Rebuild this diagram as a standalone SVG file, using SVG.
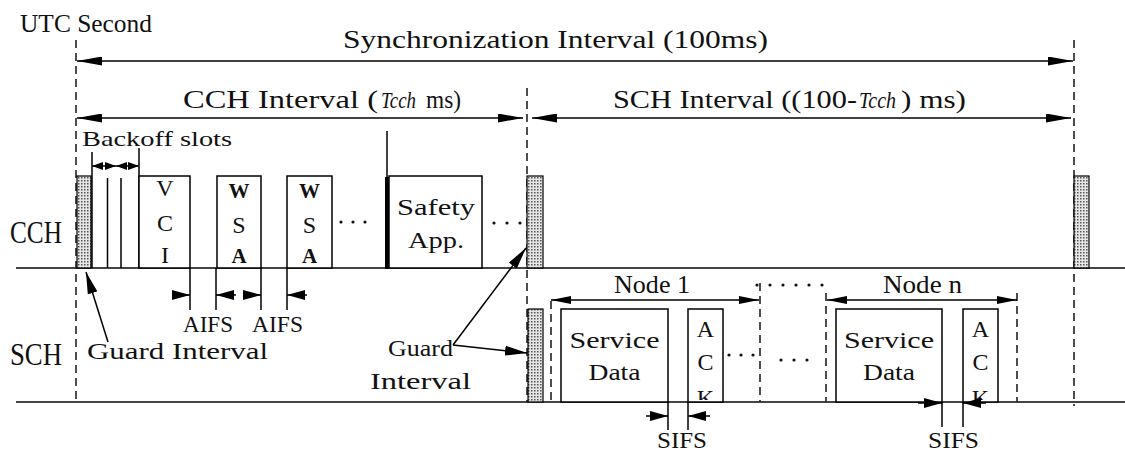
<svg xmlns="http://www.w3.org/2000/svg" width="1125" height="454" viewBox="0 0 1125 454">
<defs>
<style>
 text{font-family:"Liberation Serif","DejaVu Serif",serif;fill:#111}
 .t{font-size:26px}
 .m{font-size:24px}
 .sm{font-size:21px}
 .lab{font-family:"Liberation Serif",serif;font-size:32px}
 .it{font-family:"Liberation Serif",serif;font-style:italic;font-size:23px}
 .ln{stroke:#000;stroke-width:1.5;fill:none}
 .ch{stroke:#444;stroke-width:2;fill:none}
 .da{stroke:#222;stroke-width:1.6;stroke-dasharray:8 5;fill:none}
 .bx{stroke:#000;stroke-width:1.5;fill:#fff}
 .gd{stroke:#000;stroke-width:1.2;fill:url(#dots)}
 .dot{fill:#111}
</style>
<pattern id="dots" width="3" height="3" patternUnits="userSpaceOnUse"><rect width="3" height="3" fill="#e6e6e6"/><rect width="1.5" height="1.5" fill="#555"/></pattern>
<marker id="big" viewBox="0 0 25 9" refX="25" refY="4.5" markerWidth="25" markerHeight="9" markerUnits="userSpaceOnUse" orient="auto-start-reverse"><path d="M0,0L25,4.5L0,9z"/></marker>
<marker id="mid" viewBox="0 0 20 8" refX="20" refY="4" markerWidth="20" markerHeight="8" markerUnits="userSpaceOnUse" orient="auto-start-reverse"><path d="M0,0L20,4L0,8z"/></marker>
<marker id="sml" viewBox="0 0 11 8" refX="11" refY="4" markerWidth="11" markerHeight="8" markerUnits="userSpaceOnUse" orient="auto-start-reverse"><path d="M0,0L11,4L0,8z"/></marker>
<marker id="gi" viewBox="0 0 22 10" refX="22" refY="5" markerWidth="22" markerHeight="10" markerUnits="userSpaceOnUse" orient="auto"><path d="M0,0L22,5L0,10z"/></marker>
<marker id="tk" viewBox="0 0 18 10" refX="18" refY="5" markerWidth="18" markerHeight="10" markerUnits="userSpaceOnUse" orient="auto"><path d="M0,0L18,5L0,10z"/></marker>
<clipPath id="ack1"><rect x="688" y="309" width="35" height="91"/></clipPath>
<clipPath id="ackn"><rect x="963" y="309" width="35" height="91"/></clipPath>
</defs>
<rect width="1125" height="454" fill="#fff"/>

<g id="channels">
 <line class="ch" x1="16" y1="268" x2="1125" y2="268"/>
 <line class="ch" x1="16" y1="402" x2="1125" y2="402"/>
 <text class="lab" x="10" y="243" textLength="52" lengthAdjust="spacingAndGlyphs">CCH</text>
 <text class="lab" x="10" y="365" textLength="52" lengthAdjust="spacingAndGlyphs">SCH</text>
</g>

<g id="timelines">
 <line class="da" x1="76" y1="40" x2="76" y2="404"/>
 <line class="da" x1="527" y1="88" x2="527" y2="402"/>
 <line class="da" x1="1074" y1="40" x2="1074" y2="406"/>
 <line class="da" x1="551" y1="301" x2="551" y2="402"/>
 <line class="da" x1="760" y1="283" x2="760" y2="402"/>
 <line class="da" x1="826" y1="293" x2="826" y2="402"/>
 <line class="da" x1="1017" y1="293" x2="1017" y2="402"/>
 <text class="t" x="20" y="32" textLength="132" lengthAdjust="spacingAndGlyphs">UTC Second</text>
</g>

<g id="sync-interval">
 <text class="t" x="343" y="48" textLength="425" lengthAdjust="spacingAndGlyphs">Synchronization Interval (100ms)</text>
</g>
<g id="cch-interval">
 <text class="t" x="183" y="108" textLength="195" lengthAdjust="spacingAndGlyphs">CCH Interval (</text>
 <text class="it" x="381" y="108" textLength="35" lengthAdjust="spacingAndGlyphs">Tcch</text>
 <text class="t" x="426" y="108" textLength="35" lengthAdjust="spacingAndGlyphs">ms)</text>
</g>
<g id="sch-interval">
 <text class="t" x="613" y="108" textLength="244" lengthAdjust="spacingAndGlyphs">SCH Interval ((100-</text>
 <text class="it" x="859" y="108" textLength="37" lengthAdjust="spacingAndGlyphs">Tcch</text>
 <text class="t" x="901" y="108" textLength="65" lengthAdjust="spacingAndGlyphs">) ms)</text>
</g>

<g id="guard-cch-1"><rect class="gd" x="77" y="176" width="14" height="92"/></g>
<g id="backoff">
 <text class="sm" x="82" y="146" textLength="150" lengthAdjust="spacingAndGlyphs">Backoff slots</text>
 <line class="ln" x1="92" y1="152" x2="92" y2="268"/>
 <line class="ln" x1="107.5" y1="178" x2="107.5" y2="268"/>
 <line class="ln" x1="121" y1="178" x2="121" y2="268"/>
 <line class="ln" x1="139" y1="148" x2="139" y2="268"/>
</g>
<g id="vci">
 <rect class="bx" x="139" y="176" width="51" height="92"/>
 <text class="m" x="165" y="196" text-anchor="middle">V</text>
 <text class="m" x="165" y="231" text-anchor="middle">C</text>
 <text class="m" x="165" y="263" text-anchor="middle">I</text>
</g>
<g id="wsa1">
 <rect class="bx" x="217" y="176" width="44" height="92"/>
 <text class="sm" x="239" y="198" text-anchor="middle" font-weight="bold">W</text>
 <text class="m" x="239" y="233" text-anchor="middle">S</text>
 <text class="sm" x="239" y="263" text-anchor="middle" font-weight="bold">A</text>
</g>
<g id="wsa2">
 <rect class="bx" x="287" y="176" width="45" height="92"/>
 <text class="sm" x="309.5" y="198" text-anchor="middle" font-weight="bold">W</text>
 <text class="m" x="309.5" y="233" text-anchor="middle">S</text>
 <text class="sm" x="309.5" y="263" text-anchor="middle" font-weight="bold">A</text>
</g>
<g id="dots-cch-1">
 <circle class="dot" cx="341" cy="222" r="1.6"/><circle class="dot" cx="353" cy="222" r="1.6"/><circle class="dot" cx="365" cy="222" r="1.6"/>
</g>
<g id="safety-app">
 <line class="ln" x1="387" y1="131" x2="387" y2="178"/>
 <line stroke="#000" stroke-width="4" x1="387" y1="177" x2="387" y2="269"/>
 <rect class="bx" x="389" y="176" width="93" height="92"/>
 <text class="m" x="436" y="215" text-anchor="middle" textLength="78" lengthAdjust="spacingAndGlyphs">Safety</text>
 <text class="m" x="436" y="248" text-anchor="middle" textLength="56" lengthAdjust="spacingAndGlyphs">App.</text>
</g>
<g id="dots-cch-2">
 <circle class="dot" cx="494" cy="223" r="1.6"/><circle class="dot" cx="507" cy="223" r="1.6"/><circle class="dot" cx="520" cy="223" r="1.6"/>
</g>
<g id="guard-cch-2"><rect class="gd" x="527" y="176" width="16" height="92"/></g>
<g id="guard-cch-3"><rect class="gd" x="1074" y="176" width="15" height="92"/></g>
<g id="guard-sch-1"><rect class="gd" x="528" y="309" width="15" height="93"/></g>

<g id="aifs">
 <line class="ln" x1="190" y1="268" x2="190" y2="310"/>
 <line class="ln" x1="216" y1="268" x2="216" y2="310"/>
 <line class="ln" x1="261" y1="268" x2="261" y2="310"/>
 <line class="ln" x1="287" y1="268" x2="287" y2="310"/>
 <text class="m" x="183" y="332" textLength="50" lengthAdjust="spacingAndGlyphs">AIFS</text>
 <text class="m" x="252" y="332" textLength="51" lengthAdjust="spacingAndGlyphs">AIFS</text>
</g>
<g id="guard-label-1">
 <text class="m" x="87" y="359" textLength="181" lengthAdjust="spacingAndGlyphs">Guard Interval</text>
</g>
<g id="guard-label-2">
 <text class="m" x="388" y="356" textLength="65" lengthAdjust="spacingAndGlyphs">Guard</text>
 <text class="m" x="370" y="389" textLength="101" lengthAdjust="spacingAndGlyphs">Interval</text>
</g>

<g id="node1">
 <text class="t" x="614" y="293" textLength="76" lengthAdjust="spacingAndGlyphs">Node 1</text>
 <rect class="bx" x="561" y="309" width="107" height="93"/>
 <text class="m" x="614.5" y="348" text-anchor="middle" textLength="90" lengthAdjust="spacingAndGlyphs">Service</text>
 <text class="m" x="614.5" y="380" text-anchor="middle" textLength="52" lengthAdjust="spacingAndGlyphs">Data</text>
 <rect class="bx" x="688" y="309" width="35" height="93"/>
 <text class="m" x="705.5" y="337" text-anchor="middle">A</text>
 <text class="m" x="705.5" y="370" text-anchor="middle">C</text>
 <text class="m" x="705.5" y="406" text-anchor="middle" clip-path="url(#ack1)">K</text>
 <line class="ln" x1="668" y1="402" x2="668" y2="430"/>
 <line class="ln" x1="688" y1="402" x2="688" y2="430"/>
 <text class="m" x="657" y="448" textLength="50" lengthAdjust="spacingAndGlyphs">SIFS</text>
</g>
<g id="dots-sch">
 <circle class="dot" cx="729" cy="355" r="1.6"/><circle class="dot" cx="741" cy="355" r="1.6"/><circle class="dot" cx="753" cy="355" r="1.6"/>
 <circle class="dot" cx="781" cy="360" r="1.6"/><circle class="dot" cx="794" cy="360" r="1.6"/><circle class="dot" cx="807" cy="360" r="1.6"/>
 <circle class="dot" cx="757" cy="285" r="1.6"/><circle class="dot" cx="770" cy="285" r="1.6"/><circle class="dot" cx="783" cy="285" r="1.6"/><circle class="dot" cx="796" cy="285" r="1.6"/><circle class="dot" cx="809" cy="285" r="1.6"/><circle class="dot" cx="822" cy="285" r="1.6"/>
</g>
<g id="noden">
 <text class="t" x="883" y="293" textLength="79" lengthAdjust="spacingAndGlyphs">Node n</text>
 <rect class="bx" x="836" y="309" width="106" height="93"/>
 <text class="m" x="889" y="348" text-anchor="middle" textLength="90" lengthAdjust="spacingAndGlyphs">Service</text>
 <text class="m" x="889" y="380" text-anchor="middle" textLength="52" lengthAdjust="spacingAndGlyphs">Data</text>
 <rect class="bx" x="963" y="309" width="35" height="93"/>
 <text class="m" x="980.5" y="337" text-anchor="middle">A</text>
 <text class="m" x="980.5" y="370" text-anchor="middle">C</text>
 <text class="m" x="980.5" y="406" text-anchor="middle" clip-path="url(#ackn)">K</text>
 <line class="ln" x1="942" y1="402" x2="942" y2="427"/>
 <line class="ln" x1="963" y1="402" x2="963" y2="427"/>
 <text class="m" x="928" y="448" textLength="51" lengthAdjust="spacingAndGlyphs">SIFS</text>
</g>

<g id="connectors">
 <line class="ln" x1="77" y1="61" x2="1073" y2="61" marker-start="url(#big)" marker-end="url(#big)"/>
 <line class="ln" x1="77" y1="118" x2="523" y2="118" marker-start="url(#big)" marker-end="url(#big)"/>
 <line class="ln" x1="532" y1="118" x2="1071" y2="118" marker-start="url(#big)" marker-end="url(#big)"/>
 <line class="ln" x1="92" y1="166" x2="116" y2="166" marker-start="url(#sml)" marker-end="url(#sml)"/>
 <line class="ln" x1="116" y1="166" x2="139" y2="166" marker-start="url(#sml)" marker-end="url(#sml)"/>
 <line class="ln" x1="551" y1="300" x2="759" y2="300" marker-start="url(#mid)" marker-end="url(#mid)"/>
 <line class="ln" x1="827" y1="300" x2="1017" y2="300" marker-start="url(#mid)" marker-end="url(#mid)"/>
 <line class="ln" x1="108" y1="342" x2="86" y2="272" marker-end="url(#gi)"/>
 <line class="ln" x1="453" y1="345" x2="526" y2="248" marker-end="url(#gi)"/>
 <line class="ln" x1="453" y1="345" x2="527" y2="353" marker-end="url(#gi)"/>
 <line class="ln" x1="172" y1="295" x2="190" y2="295" marker-end="url(#tk)"/>
 <line class="ln" x1="236" y1="295" x2="216" y2="295" marker-end="url(#tk)"/>
 <line class="ln" x1="243" y1="295" x2="261" y2="295" marker-end="url(#tk)"/>
 <line class="ln" x1="307" y1="295" x2="287" y2="295" marker-end="url(#tk)"/>
 <line class="ln" x1="646" y1="416" x2="668" y2="416" marker-end="url(#tk)"/>
 <line class="ln" x1="710" y1="416" x2="688" y2="416" marker-end="url(#tk)"/>
 <line class="ln" x1="918" y1="403" x2="942" y2="403" marker-end="url(#tk)"/>
 <line class="ln" x1="986" y1="403" x2="963" y2="403" marker-end="url(#tk)"/>
</g>
</svg>
